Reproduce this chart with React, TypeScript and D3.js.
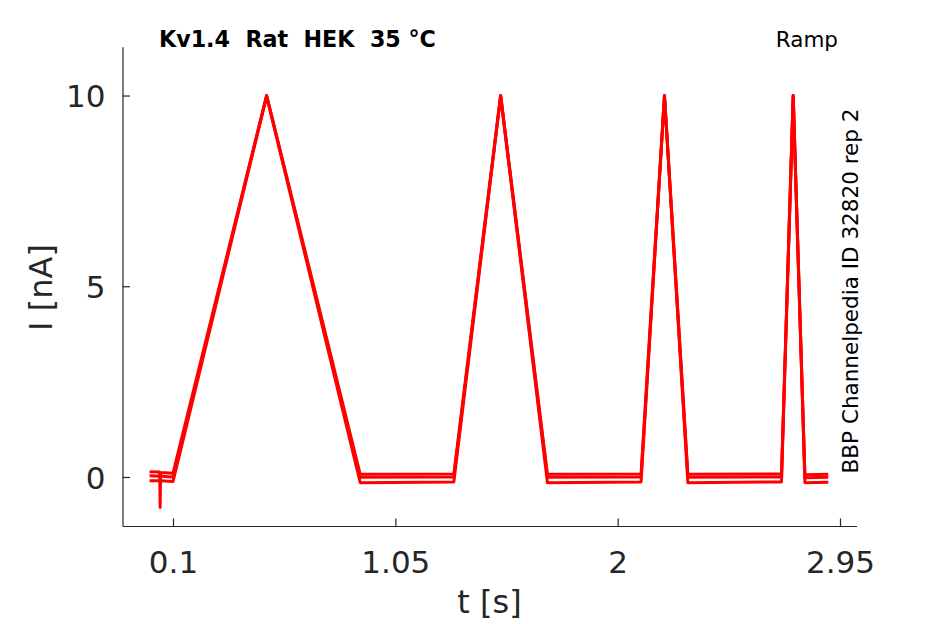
import { useEffect, useRef } from "react";
import * as d3 from "d3";

// sweep samples (t in s, I in nA)
const sweepTimes = [0, 0.043, 0.045, 0.047, 0.1, 0.5, 0.9, 1.3, 1.5, 1.7, 2.1, 2.2, 2.3, 2.7, 2.75, 2.8, 2.9];
const sweepA = [0.14, 0.13, -0.8, 0.12, 0.1, 10, 0.07, 0.08, 10, 0.07, 0.08, 10, 0.07, 0.08, 10, 0.06, 0.07];
const sweepB = [0.03, 0.02, 0.02, 0.02, 0.0, 10, -0.01, 0.0, 10, -0.01, 0.0, 10, -0.01, 0.0, 10, -0.02, -0.01];
const sweepC = [-0.1, -0.1, -0.1, -0.1, -0.12, 9.98, -0.15, -0.13, 9.98, -0.15, -0.13, 9.98, -0.15, -0.13, 9.98, -0.15, -0.14];
const sweeps = [sweepA, sweepB, sweepC];

const xTicks = [0.1, 1.05, 2, 2.95];
const xTickLabels = ["0.1", "1.05", "2", "2.95"];
const yTicks = [0, 5, 10];

const title = "Kv1.4  Rat  HEK  35 °C";
const protocol = "Ramp";
const sideNote = "BBP Channelpedia ID 32820 rep 2";

export default function App() {
  const svgRef = useRef<SVGSVGElement>(null);

  useEffect(() => {
    if (!svgRef.current) return;
    const width = 945;
    const height = 624;
    const left = 122.5;
    const right = 856.5;
    const top = 46.7;
    const bottom = 526;
    const ink = "#262626";
    const font = "DejaVu Sans, sans-serif";

    const svg = d3.select(svgRef.current);
    svg.selectAll("*").remove();
    svg.attr("width", width).attr("height", height);

    const x = d3.scaleLinear().domain([-0.1158, 3.0205]).range([left, right]);
    const y = d3.scaleLinear().domain([-1.285, 11.28]).range([bottom, top]);

    // traces
    const line = d3
      .line<number>()
      .x((_, i) => x(sweepTimes[i]))
      .y((d) => y(d));

    svg
      .append("g")
      .selectAll("path")
      .data(sweeps)
      .join("path")
      .attr("fill", "none")
      .attr("stroke", "#ff0000")
      .attr("stroke-width", 3)
      .attr("stroke-linejoin", "round")
      .attr("d", (d) => line(d));

    // x axis
    const gx = svg
      .append("g")
      .attr("transform", `translate(0,${bottom})`)
      .call(
        d3
          .axisBottom(x)
          .tickValues(xTicks)
          .tickSizeInner(-7.5)
          .tickSizeOuter(0)
          .tickPadding(16)
          .tickFormat((_, i) => xTickLabels[i])
      );
    gx.select(".domain").attr("stroke", ink).attr("stroke-width", 1.2);
    gx.selectAll("line").attr("stroke", ink).attr("stroke-width", 1.2);
    gx.selectAll("text")
      .attr("fill", ink)
      .attr("font-family", font)
      .attr("font-size", 31)
      .attr("dy", null)
      .attr("y", 46.5);

    // y axis
    const gy = svg
      .append("g")
      .attr("transform", `translate(${left},0)`)
      .call(d3.axisLeft(y).tickValues(yTicks).tickSizeInner(-7.5).tickSizeOuter(0).tickFormat(d3.format("d")));
    gy.select(".domain").attr("stroke", ink).attr("stroke-width", 1.2);
    gy.selectAll("line").attr("stroke", ink).attr("stroke-width", 1.2);
    gy.selectAll("text")
      .attr("fill", ink)
      .attr("font-family", font)
      .attr("font-size", 31)
      .attr("x", -17)
      .attr("dy", "0.36em");

    // axis labels
    svg
      .append("text")
      .attr("x", (left + right) / 2)
      .attr("y", 613)
      .attr("text-anchor", "middle")
      .attr("fill", ink)
      .attr("font-family", font)
      .attr("font-size", 32)
      .text("t [s]");

    svg
      .append("text")
      .attr("transform", `translate(52,287.5) rotate(-90)`)
      .attr("text-anchor", "middle")
      .attr("fill", ink)
      .attr("font-family", font)
      .attr("font-size", 32)
      .text("I [nA]");

    // annotations
    svg
      .append("text")
      .attr("x", 159)
      .attr("y", 47.3)
      .attr("fill", "#000")
      .attr("font-family", font)
      .attr("font-weight", "bold")
      .attr("font-size", 22.2)
      .style("white-space", "pre")
      .text(title);

    svg
      .append("text")
      .attr("x", 838)
      .attr("y", 46.7)
      .attr("text-anchor", "end")
      .attr("fill", "#000")
      .attr("font-family", font)
      .attr("font-size", 21.5)
      .text(protocol);

    svg
      .append("text")
      .attr("transform", `translate(858,291) rotate(-90)`)
      .attr("text-anchor", "middle")
      .attr("fill", "#000")
      .attr("font-family", font)
      .attr("font-size", 21.5)
      .text(sideNote);
  }, []);

  return <svg ref={svgRef} style={{ position: "absolute", left: 0, top: 0, background: "#fff" }} />;
}
